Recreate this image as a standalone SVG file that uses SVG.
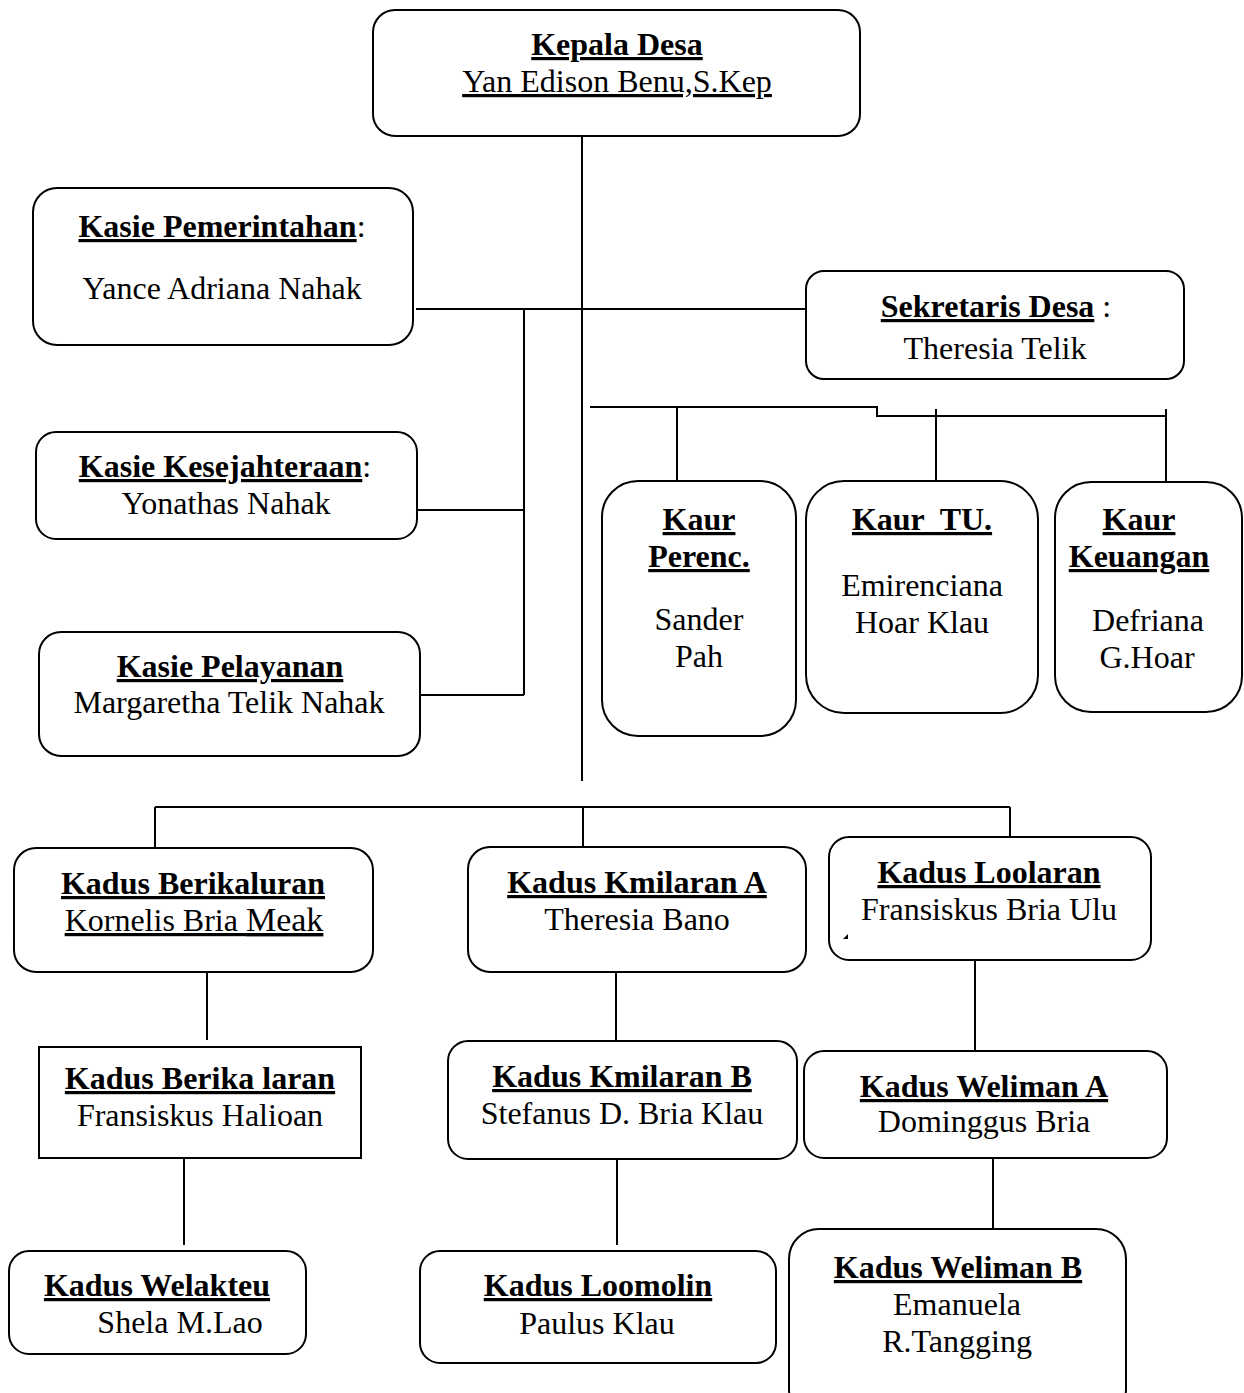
<svg xmlns="http://www.w3.org/2000/svg" width="1244" height="1393" viewBox="0 0 1244 1393">
<style>
.box{fill:#fff;stroke:#000;stroke-width:2}
.ln{fill:none;stroke:#000;stroke-width:2}
.t{font-family:"Liberation Serif","Times New Roman",serif;font-size:32px;text-anchor:middle;fill:#000}
.b{font-weight:bold;text-decoration:underline}
.u{text-decoration:underline}
</style>
<rect width="1244" height="1393" fill="#fff"/>
<g id="connectors">
<path class="ln" d="M582 136V781"/>
<path class="ln" d="M416 309H806"/>
<path class="ln" d="M524 309V695"/>
<path class="ln" d="M417 510H524"/>
<path class="ln" d="M420 695H524"/>
<path class="ln" d="M590 407H877V416H1166"/>
<path class="ln" d="M677 407V481"/>
<path class="ln" d="M936 409V481"/>
<path class="ln" d="M1166 409V481"/>
<path class="ln" d="M155 807H1010"/>
<path class="ln" d="M155 807V848"/>
<path class="ln" d="M583 807V847"/>
<path class="ln" d="M1010 807V837"/>
<path class="ln" d="M207 972V1040"/>
<path class="ln" d="M184 1158V1245"/>
<path class="ln" d="M616 972V1041"/>
<path class="ln" d="M617 1159V1245"/>
<path class="ln" d="M975 960V1051"/>
<path class="ln" d="M993 1153V1229"/>
</g>
<g id="kepala-desa">
<rect class="box" x="373" y="10" width="487" height="126" rx="22"/>
<text class="t" x="617" y="55"><tspan class="b">Kepala Desa</tspan></text>
<text class="t u" x="617" y="92">Yan Edison Benu,S.Kep</text>
</g>
<g id="kasie-pemerintahan">
<rect class="box" x="33" y="188" width="380" height="157" rx="24"/>
<text class="t" x="222" y="237"><tspan class="b">Kasie Pemerintahan</tspan>:</text>
<text class="t" x="222" y="299">Yance Adriana Nahak</text>
</g>
<g id="kasie-kesejahteraan">
<rect class="box" x="36" y="432" width="381" height="107" rx="20"/>
<text class="t" x="225" y="477"><tspan class="b">Kasie Kesejahteraan</tspan>:</text>
<text class="t" x="226" y="514">Yonathas Nahak</text>
</g>
<g id="kasie-pelayanan">
<rect class="box" x="39" y="632" width="381" height="124" rx="22"/>
<text class="t" x="230" y="677"><tspan class="b">Kasie Pelayanan</tspan></text>
<text class="t" x="229" y="713">Margaretha Telik Nahak</text>
</g>
<g id="sekretaris-desa">
<rect class="box" x="806" y="271" width="378" height="108" rx="18"/>
<text class="t" x="996" y="317"><tspan class="b">Sekretaris Desa</tspan> :</text>
<text class="t" x="995" y="359">Theresia Telik</text>
</g>
<g id="kaur-perenc">
<rect class="box" x="602" y="481" width="194" height="255" rx="36"/>
<text class="t" x="699" y="530"><tspan class="b">Kaur</tspan></text>
<text class="t" x="699" y="567"><tspan class="b">Perenc.</tspan></text>
<text class="t" x="699" y="630">Sander</text>
<text class="t" x="699" y="667">Pah</text>
</g>
<g id="kaur-tu">
<rect class="box" x="806" y="481" width="232" height="232" rx="38"/>
<text class="t" x="922" y="530" style="white-space:pre"><tspan class="b">Kaur  TU.</tspan></text>
<text class="t" x="922" y="596">Emirenciana</text>
<text class="t" x="922" y="633">Hoar Klau</text>
</g>
<g id="kaur-keuangan">
<rect class="box" x="1055" y="482" width="187" height="230" rx="36"/>
<text class="t" x="1139" y="530"><tspan class="b">Kaur</tspan></text>
<text class="t" x="1139" y="567"><tspan class="b">Keuangan</tspan></text>
<text class="t" x="1148" y="631">Defriana</text>
<text class="t" x="1147" y="668">G.Hoar</text>
</g>
<g id="kadus-berikaluran">
<rect class="box" x="14" y="848" width="359" height="124" rx="22"/>
<text class="t" x="193" y="894"><tspan class="b">Kadus Berikaluran</tspan></text>
<text class="t u" x="194" y="931">Kornelis Bria <tspan font-size="34">Meak</tspan></text>
</g>
<g id="kadus-berika-laran">
<rect class="box" x="39" y="1047" width="322" height="111"/>
<text class="t" x="200" y="1089"><tspan class="b">Kadus Berika laran</tspan></text>
<text class="t" x="200" y="1126">Fransiskus Halioan</text>
</g>
<g id="kadus-welakteu">
<rect class="box" x="9" y="1251" width="297" height="103" rx="20"/>
<text class="t" x="157" y="1296"><tspan class="b">Kadus Welakteu</tspan></text>
<text class="t" x="180" y="1333">Shela M.Lao</text>
</g>
<g id="kadus-kmilaran-a">
<rect class="box" x="468" y="847" width="338" height="125" rx="22"/>
<text class="t" x="637" y="893"><tspan class="b">Kadus Kmilaran A</tspan></text>
<text class="t" x="637" y="930">Theresia Bano</text>
</g>
<g id="kadus-kmilaran-b">
<rect class="box" x="448" y="1041" width="349" height="118" rx="20"/>
<text class="t" x="622" y="1087"><tspan class="b">Kadus Kmilaran B</tspan></text>
<text class="t" x="622" y="1124">Stefanus D. Bria Klau</text>
</g>
<g id="kadus-loomolin">
<rect class="box" x="420" y="1251" width="356" height="112" rx="20"/>
<text class="t" x="598" y="1296"><tspan class="b">Kadus Loomolin</tspan></text>
<text class="t" x="597" y="1334">Paulus Klau</text>
</g>
<g id="kadus-loolaran">
<rect class="box" x="829" y="837" width="322" height="123" rx="20"/>
<text class="t" x="989" y="883"><tspan class="b">Kadus Loolaran</tspan></text>
<text class="t" x="989" y="920">Fransiskus Bria Ulu</text>
<polygon points="843,939 848,934 848,939" fill="#000"/>
</g>
<g id="kadus-weliman-a">
<rect class="box" x="804" y="1051" width="363" height="107" rx="20"/>
<text class="t" x="984" y="1097"><tspan class="b">Kadus Weliman A</tspan></text>
<text class="t" x="984" y="1132">Dominggus Bria</text>
</g>
<g id="kadus-weliman-b">
<rect class="box" x="789" y="1229" width="337" height="190" rx="30"/>
<text class="t" x="958" y="1278"><tspan class="b">Kadus Weliman B</tspan></text>
<text class="t" x="957" y="1315">Emanuela</text>
<text class="t" x="957" y="1352">R.Tangging</text>
</g>
</svg>
